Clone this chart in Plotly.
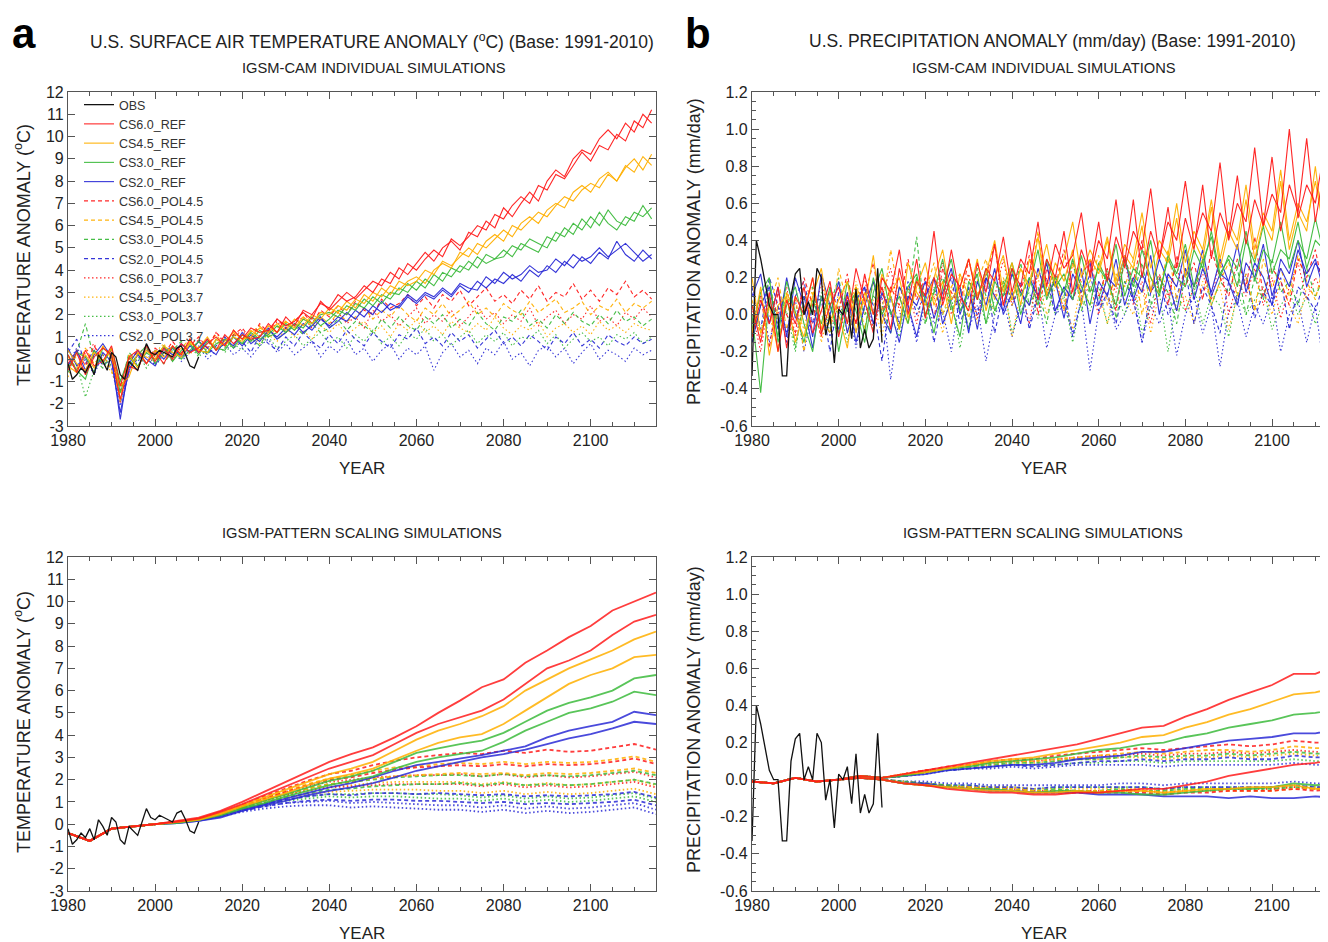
import plotly.graph_objects as go

# ---------------- axes / categories ----------------
YEARS_CAM = list(range(1980, 2116, 2))
YEARS_PS = list(range(1980, 2116, 5))
YEARS_OBS = list(range(1980, 2011))

X_TICKS = [1980, 2000, 2020, 2040, 2060, 2080, 2100]
T_TICKS = [-3, -2, -1, 0, 1, 2, 3, 4, 5, 6, 7, 8, 9, 10, 11, 12]
T_TICKTEXT = ["-3", "-2", "-1", "0", "1", "2", "3", "4", "5", "6", "7", "8", "9", "10", "11", "12"]
P_TICKS = [-0.6, -0.4, -0.2, 0.0, 0.2, 0.4, 0.6, 0.8, 1.0, 1.2]
P_TICKTEXT = ["-0.6", "-0.4", "-0.2", "0.0", "0.2", "0.4", "0.6", "0.8", "1.0", "1.2"]

SCENARIOS = ["CS6.0_REF", "CS4.5_REF", "CS3.0_REF", "CS2.0_REF",
             "CS6.0_POL4.5", "CS4.5_POL4.5", "CS3.0_POL4.5", "CS2.0_POL4.5",
             "CS6.0_POL3.7", "CS4.5_POL3.7", "CS3.0_POL3.7", "CS2.0_POL3.7"]

# ---------------- observations ----------------
OBS_T = [-0.2, -0.9, -0.7, -0.4, -0.6, -0.2, -0.7, 0.2, -0.1, -0.5, 0.3, 0.1, -0.7, -0.9, -0.1, -0.3,
         -0.5, 0.1, 0.7, 0.3, 0.2, 0.4, 0.3, 0.2, 0.1, 0.5, 0.6, 0.2, -0.3, -0.4, 0.1]
OBS_P = [-0.33, 0.40, 0.30, 0.18, 0.05, 0.0, 0.0, -0.33, -0.33, 0.10, 0.22, 0.25, 0.0, 0.07, 0.0, 0.25,
         0.20, -0.11, 0.0, -0.26, 0.03, 0.0, 0.07, -0.13, 0.14, -0.18, -0.08, -0.18, -0.13, 0.25, -0.15]

# ---------------- IGSM-CAM temperature (every 2 years) ----------------
T_CAM_CS60_REF = [-0.5, 0.3, -0.7, 0.1, 0.5, 0.2, -1.8, -0.3, -0.5, 0.6, -0.1, 0.5, 0.0, 0.7, 0.3, 0.5, 0.9, 0.4, 1.1, 0.7,
                  1.1, 0.9, 1.0, 1.6, 1.2, 1.9, 1.5, 2.2, 2.0, 2.5, 2.3, 2.9, 2.6, 2.8, 3.3, 3.0, 3.6, 3.4, 4.1, 3.8,
                  4.3, 4.8, 4.4, 5.0, 5.3, 4.9, 5.7, 5.5, 6.2, 5.9, 6.8, 6.4, 7.0, 7.5, 7.1, 8.0, 8.5, 8.2, 9.0, 9.4,
                  9.2, 9.9, 10.3, 9.9, 10.6, 10.2, 11.0, 10.6]
T_CAM_CS60_REF_2 = [0.2, -0.6, 0.4, -0.3, -0.1, 0.6, -1.2, 0.1, 0.4, -0.2, 0.3, -0.2, 0.6, 0.2, 0.9, 0.3, 0.7, 1.0, 0.6, 1.3,
                    0.9, 1.4, 1.2, 1.3, 1.8, 1.5, 1.7, 2.1, 1.8, 2.6, 2.2, 2.6, 3.0, 2.7, 3.1, 3.5, 3.3, 3.9, 3.6, 4.3,
                    4.0, 4.5, 4.9, 4.6, 5.4, 5.1, 5.5, 6.0, 5.8, 6.5, 6.3, 6.9, 7.3, 7.0, 7.8, 7.6, 8.3, 8.1, 8.7, 9.3,
                    8.9, 9.6, 9.4, 10.1, 9.8, 10.7, 10.4, 11.2]
T_CAM_CS45_REF = [-0.3, -0.6, 0.2, -0.4, 0.6, 0.0, -1.2, -0.8, 0.3, -0.2, 0.4, 0.1, 0.6, 0.2, 0.8, 0.4, 0.3, 0.9, 0.6, 1.0,
                  0.8, 1.3, 1.0, 1.5, 1.2, 1.7, 1.4, 1.9, 1.6, 2.1, 2.0, 2.4, 2.2, 2.7, 2.5, 3.0, 2.8, 3.3, 3.1, 3.5,
                  3.7, 3.4, 4.0, 4.3, 4.1, 4.8, 4.6, 5.2, 5.0, 5.4, 5.8, 5.5, 6.1, 6.4, 6.1, 6.7, 7.0, 6.8, 7.5, 7.8,
                  7.5, 8.1, 8.4, 8.0, 8.7, 8.4, 9.1, 8.7]
T_CAM_CS45_REF_2 = [0.4, -0.2, -0.5, 0.3, -0.1, 0.5, -1.9, 0.2, -0.4, 0.4, 0.0, 0.6, 0.3, 0.1, 0.7, 0.5, 1.0, 0.4, 0.8, 1.2,
                    0.9, 1.0, 1.4, 1.2, 1.6, 1.3, 1.8, 1.5, 2.0, 1.8, 2.3, 2.1, 2.6, 2.3, 2.9, 2.6, 3.2, 2.9, 3.5, 3.3,
                    3.5, 4.0, 3.8, 4.4, 4.2, 4.6, 5.0, 4.7, 5.3, 5.6, 5.3, 6.0, 5.8, 6.2, 6.6, 6.4, 6.9, 7.3, 7.1, 7.6,
                    7.9, 7.7, 8.3, 8.0, 8.6, 9.0, 8.5, 9.2]
T_CAM_CS30_REF = [0.2, -0.5, -0.9, 0.4, -0.2, 0.5, -1.0, 0.1, -0.3, 0.3, 0.0, 0.6, -0.1, 0.4, 0.7, 0.2, 0.8, 0.5, 0.4, 1.0,
                  0.7, 1.2, 0.9, 1.1, 1.5, 1.2, 1.6, 1.4, 1.9, 1.5, 1.8, 2.2, 2.0, 2.5, 2.3, 2.8, 2.5, 3.0, 2.9, 3.4,
                  3.1, 3.6, 3.3, 3.9, 3.7, 4.2, 4.0, 4.6, 4.3, 4.5, 4.9, 4.6, 5.2, 5.0, 4.8, 5.5, 5.3, 5.9, 5.6, 6.3,
                  5.9, 6.6, 6.1, 5.8, 6.4, 6.2, 6.9, 6.3]
T_CAM_CS30_REF_2 = [-0.4, 0.3, 0.1, -0.6, 0.5, 0.2, -1.5, -0.3, 0.2, 0.6, -0.2, 0.3, 0.5, 0.0, 0.4, 0.8, 0.3, 0.7, 0.9, 0.5,
                    1.1, 0.8, 1.3, 1.0, 1.2, 1.6, 1.3, 1.8, 1.6, 2.0, 2.1, 1.9, 2.4, 2.2, 2.7, 2.4, 2.9, 2.7, 3.2, 3.0,
                    3.5, 3.2, 3.8, 3.5, 4.1, 3.9, 4.4, 4.1, 4.7, 4.5, 4.6, 5.1, 4.9, 5.4, 5.2, 5.0, 5.7, 5.5, 6.1, 5.8,
                    6.4, 6.0, 6.7, 6.2, 6.0, 6.6, 6.4, 6.8]
T_CAM_CS20_REF = [0.5, -0.3, 0.1, -0.6, 0.3, -0.1, -2.4, -0.5, 0.2, -0.2, 0.4, 0.0, 0.5, 0.1, 0.6, 0.3, 0.9, 0.4, 0.7, 1.0,
                  0.6, 1.1, 0.8, 1.3, 1.0, 1.4, 1.1, 1.6, 1.3, 1.8, 1.5, 1.9, 1.7, 2.2, 1.9, 2.4, 2.1, 2.5, 2.3, 2.8,
                  2.5, 2.9, 2.7, 3.1, 2.8, 3.3, 3.0, 3.5, 3.2, 3.6, 3.4, 3.8, 3.5, 4.0, 3.7, 4.2, 3.9, 4.4, 4.1, 4.6,
                  4.3, 4.8, 4.5, 5.3, 4.7, 4.4, 4.9, 4.5]
T_CAM_CS20_REF_2 = [-0.3, 0.4, -0.5, 0.2, 0.7, 0.1, -2.7, -0.2, 0.4, 0.0, -0.3, 0.5, 0.2, 0.7, 0.3, 0.8, 0.5, 0.2, 0.9, 0.6,
                    1.2, 0.7, 1.0, 1.4, 0.9, 1.2, 1.6, 1.2, 1.5, 1.9, 1.4, 1.7, 2.1, 1.8, 2.3, 2.0, 2.6, 2.2, 2.4, 2.9,
                    2.6, 3.0, 2.8, 3.2, 2.9, 3.4, 3.2, 3.1, 3.7, 3.4, 3.9, 3.6, 3.8, 4.2, 3.9, 4.0, 4.5, 4.2, 4.7, 4.4,
                    4.6, 5.0, 4.6, 4.9, 5.2, 4.8, 4.4, 4.7]
T_CAM_CS60_P45 = [-0.2, 0.4, -0.3, 0.6, -0.1, 0.4, -1.4, 0.0, 0.3, -0.2, 0.5, 0.2, 0.8, 0.3, 0.6, 1.0, 0.5, 1.2, 0.8, 1.1,
                  1.4, 0.9, 1.6, 1.2, 1.8, 1.4, 1.7, 2.1, 1.6, 2.2, 1.9, 2.4, 2.0, 2.6, 2.2, 2.0, 2.7, 2.3, 2.5, 2.9,
                  2.4, 2.8, 2.3, 2.9, 2.6, 3.1, 2.4, 2.8, 3.2, 2.6, 2.9, 2.5, 3.1, 2.7, 3.3, 2.6, 3.0, 2.8, 3.4, 2.7,
                  3.1, 2.6, 3.2, 2.9, 3.5, 2.8, 3.1, 2.7]
T_CAM_CS45_P45 = [0.1, -0.4, 0.5, -0.2, 0.2, -0.5, -1.6, -0.2, 0.4, 0.1, -0.1, 0.6, 0.2, 0.5, 0.9, 0.4, 0.7, 1.1, 0.6, 1.3,
                  0.9, 1.2, 1.5, 1.0, 1.4, 1.7, 1.3, 1.8, 1.5, 1.9, 1.6, 2.1, 1.7, 1.9, 2.3, 1.8, 2.2, 1.9, 2.4, 2.0,
                  1.7, 2.3, 2.0, 2.5, 1.9, 2.2, 2.6, 2.0, 2.3, 1.9, 2.5, 2.2, 2.0, 2.6, 2.1, 2.4, 2.7, 2.1, 2.3, 2.6,
                  2.0, 2.4, 2.2, 2.7, 2.1, 2.5, 2.3, 2.6]
T_CAM_CS30_P45 = [-0.6, 0.3, 1.6, 0.0, -0.4, 0.2, -1.3, 0.3, -0.1, 0.5, 0.1, -0.2, 0.4, 0.8, 0.3, 0.6, 0.2, 0.9, 0.5, 1.1,
                  0.7, 1.0, 0.6, 1.3, 0.9, 1.2, 1.5, 1.1, 1.6, 1.2, 1.4, 1.8, 1.3, 1.7, 1.5, 1.2, 1.8, 1.4, 1.9, 1.5,
                  1.3, 1.9, 1.6, 2.0, 1.4, 1.8, 1.5, 2.1, 1.6, 1.3, 1.9, 1.7, 2.2, 1.5, 1.8, 1.4, 2.0, 1.6, 2.1, 1.7,
                  1.5, 2.0, 1.6, 2.2, 1.7, 1.9, 1.5, 1.8]
T_CAM_CS20_P45 = [0.3, 0.9, -0.2, 0.4, -0.3, 0.1, -1.9, -0.4, 0.0, 0.5, -0.2, 0.3, 0.6, 0.1, 0.4, 0.8, 0.2, 0.6, 1.0, 0.5,
                  0.8, 0.3, 1.1, 0.7, 0.4, 1.0, 0.6, 1.2, 0.8, 0.5, 1.1, 0.7, 1.3, 0.9, 0.6, 1.2, 0.8, 0.5, 1.1, 0.9,
                  1.4, 0.7, 1.0, 0.6, 1.2, 0.8, 1.1, 0.5, 0.9, 1.3, 0.7, 1.0, 0.6, 1.1, 0.8, 0.4, 1.0, 0.7, 1.2, 0.6,
                  0.9, 0.5, 1.1, 0.8, 0.6, 1.0, 0.7, 0.9]
T_CAM_CS60_P37 = [0.0, -0.5, 0.3, 0.7, -0.2, 0.1, -2.0, -0.6, 0.2, 0.6, 0.1, 0.4, -0.1, 0.7, 0.3, 0.9, 0.5, 1.2, 0.7, 1.0,
                  1.3, 0.8, 1.5, 1.1, 1.7, 1.2, 1.6, 1.9, 1.4, 1.8, 1.5, 2.1, 1.6, 1.9, 1.4, 2.2, 1.7, 2.0, 1.5, 1.9,
                  2.3, 1.6, 2.0, 1.7, 2.2, 1.5, 1.9, 2.4, 1.8, 2.1, 1.6, 2.0, 1.7, 2.3, 1.5, 1.9, 2.2, 1.6, 2.0, 1.8,
                  2.4, 1.7, 1.9, 1.5, 2.1, 1.8, 2.3, 1.9]
T_CAM_CS45_P37 = [-0.8, 0.2, -0.3, 0.4, 0.0, -0.6, -1.5, -0.1, 0.5, -0.2, 0.3, 0.7, 0.1, 0.5, 0.2, 0.8, 0.4, 0.6, 1.0, 0.5,
                  0.9, 1.2, 0.7, 1.1, 0.8, 1.4, 1.0, 1.3, 0.9, 1.5, 1.2, 1.6, 1.1, 1.4, 1.7, 1.2, 1.5, 1.0, 1.6, 1.3,
                  1.8, 1.2, 1.5, 1.1, 1.7, 1.4, 1.2, 1.6, 1.3, 1.9, 1.4, 1.1, 1.5, 1.3, 1.7, 1.0, 1.4, 1.6, 1.2, 1.5,
                  1.1, 1.7, 1.3, 1.5, 1.2, 1.6, 1.4, 1.3]
T_CAM_CS30_P37 = [0.4, -0.2, -1.7, -0.5, 0.2, -0.3, -1.1, 0.0, 0.3, -0.4, 0.2, 0.5, 0.0, 0.3, 0.6, 0.1, 0.5, 0.8, 0.3, 0.7,
                  0.4, 0.9, 0.6, 1.0, 0.5, 0.8, 1.1, 0.6, 0.9, 1.2, 0.7, 1.0, 0.5, 1.1, 0.8, 1.3, 0.7, 1.0, 0.6, 1.2,
                  0.9, 1.4, 0.8, 1.1, 0.6, 1.0, 1.3, 0.7, 1.1, 0.8, 1.2, 0.6, 1.0, 0.9, 1.3, 0.7, 1.1, 0.5, 0.9, 1.2,
                  0.8, 1.0, 0.6, 1.1, 0.9, 1.2, 0.7, 1.0]
T_CAM_CS20_P37 = [-0.2, 0.5, 0.0, -0.7, 0.2, -0.4, -2.1, -0.6, -0.1, 0.3, -0.3, 0.2, 0.5, -0.1, 0.3, 0.6, 0.0, 0.4, 0.7, 0.2,
                  0.5, 0.1, 0.6, 0.9, 0.3, 0.7, 0.2, 0.5, 0.8, 0.1, 0.6, 0.3, 0.9, 0.2, 0.5, -0.1, 0.4, 0.7, 0.0, 0.5,
                  0.2, 0.6, -0.5, 0.3, 0.7, 0.1, 0.4, -0.2, 0.5, 0.2, 0.8, 0.0, 0.3, -0.3, 0.4, 0.6, 0.1, 0.5, -0.2, 0.3,
                  0.7, 0.0, 0.4, 0.2, -0.1, 0.5, 0.2, 0.4]

# ---------------- IGSM-CAM precipitation (every 2 years) ----------------
P_CAM_CS60_REF = [0.05, -0.15, 0.12, -0.2, 0.08, -0.05, 0.15, -0.1, 0.02, 0.18, -0.12, 0.1, -0.05, 0.22, 0.0, 0.15, -0.08, 0.25, 0.05, 0.3,
                  -0.02, 0.2, 0.08, 0.35, 0.1, 0.02, 0.28, 0.12, 0.38, 0.05, 0.25, 0.15, 0.4, 0.08, 0.3, 0.2, 0.45, 0.12, 0.35, 0.22,
                  0.5, 0.18, 0.42, 0.28, 0.62, 0.2, 0.45, 0.3, 0.58, 0.25, 0.52, 0.35, 0.7, 0.3, 0.55, 0.42, 0.75, 0.38, 0.62, 0.48,
                  0.85, 0.45, 0.7, 0.55, 0.95, 0.5, 0.78, 0.6]
P_CAM_CS60_REF_2 = [-0.12, 0.08, -0.05, 0.15, -0.18, 0.1, 0.0, 0.2, -0.1, 0.05, 0.15, -0.05, 0.25, 0.08, -0.1, 0.2, 0.12, 0.35, 0.0, 0.18,
                    0.1, 0.45, 0.05, 0.22, 0.15, 0.3, 0.08, 0.25, 0.18, 0.42, 0.12, 0.3, 0.22, 0.5, 0.15, 0.38, 0.25, 0.32, 0.55, 0.2,
                    0.4, 0.3, 0.62, 0.25, 0.45, 0.35, 0.68, 0.3, 0.5, 0.4, 0.72, 0.38, 0.55, 0.45, 0.82, 0.4, 0.6, 0.5, 0.9, 0.48,
                    0.65, 0.55, 1.0, 0.52, 0.7, 0.6, 0.88, 0.55]
P_CAM_CS45_REF = [-0.1, 0.15, -0.22, 0.05, 0.1, -0.15, 0.02, 0.2, -0.08, 0.12, 0.0, -0.18, 0.15, 0.05, 0.32, -0.05, 0.12, 0.2, -0.02, 0.15,
                  0.28, 0.05, 0.18, -0.05, 0.22, 0.1, 0.3, 0.02, 0.2, 0.32, 0.08, 0.25, 0.15, 0.42, 0.1, 0.28, 0.18, 0.35, 0.05, 0.3,
                  0.22, 0.4, 0.15, 0.32, 0.25, 0.48, 0.12, 0.35, 0.28, 0.52, 0.2, 0.4, 0.3, 0.58, 0.25, 0.45, 0.35, 0.62, 0.3, 0.5,
                  0.4, 0.72, 0.35, 0.55, 0.45, 0.8, 0.42, 0.6]
P_CAM_CS45_REF_2 = [0.2, -0.1, 0.05, -0.2, 0.12, 0.0, -0.12, 0.1, 0.25, -0.05, 0.08, 0.18, -0.1, 0.12, 0.0, 0.22, 0.1, -0.08, 0.28, 0.12,
                    0.05, 0.2, 0.35, 0.08, 0.15, 0.3, 0.1, 0.22, 0.4, 0.12, 0.28, 0.05, 0.3, 0.2, 0.38, 0.15, 0.3, 0.5, 0.2, 0.35,
                    0.25, 0.42, 0.18, 0.38, 0.3, 0.55, 0.25, 0.4, 0.32, 0.6, 0.28, 0.45, 0.35, 0.62, 0.3, 0.5, 0.4, 0.7, 0.35, 0.55,
                    0.45, 0.78, 0.4, 0.6, 0.5, 0.72, 0.45, 0.65]
P_CAM_CS30_REF = [0.0, -0.42, 0.1, -0.12, 0.18, 0.02, -0.15, 0.08, -0.05, 0.15, -0.2, 0.05, 0.12, -0.1, 0.2, 0.0, 0.1, -0.08, 0.15, 0.22,
                  0.0, 0.12, 0.3, 0.05, -0.12, 0.18, 0.08, 0.25, 0.02, 0.15, 0.28, 0.1, 0.2, 0.05, 0.3, 0.15, 0.22, 0.08, 0.32, 0.12,
                  0.25, 0.18, 0.05, 0.3, 0.15, 0.35, 0.2, 0.1, 0.32, 0.22, 0.38, 0.15, 0.28, 0.42, 0.2, 0.32, 0.25, 0.45, 0.18, 0.35,
                  0.28, 0.5, 0.25, 0.4, 0.3, 0.52, 0.32, 0.42]
P_CAM_CS30_REF_2 = [-0.08, 0.12, 0.2, -0.15, 0.05, 0.15, -0.05, -0.2, 0.1, 0.05, -0.1, 0.18, 0.02, -0.15, 0.12, 0.25, 0.0, 0.1, -0.05, 0.2,
                    0.08, -0.1, 0.15, 0.3, 0.02, 0.12, 0.22, -0.05, 0.18, 0.1, 0.25, 0.0, 0.15, 0.35, 0.08, 0.2, 0.12, 0.3, 0.15, 0.05,
                    0.28, 0.18, 0.38, 0.1, 0.25, 0.2, 0.4, 0.12, 0.3, 0.2, 0.15, 0.35, 0.25, 0.45, 0.22, 0.3, 0.15, 0.4, 0.28, 0.48,
                    0.22, 0.35, 0.3, 0.5, 0.25, 0.4, 0.35, 0.55]
P_CAM_CS20_REF = [0.1, 0.22, -0.05, 0.15, -0.12, 0.2, 0.05, -0.18, 0.1, 0.0, 0.18, -0.1, 0.08, 0.15, -0.05, 0.12, 0.02, -0.15, 0.1, 0.05,
                  0.18, -0.02, 0.12, 0.25, 0.0, 0.15, -0.08, 0.2, 0.1, 0.02, 0.22, 0.12, 0.05, 0.25, 0.1, 0.18, -0.02, 0.22, 0.12, 0.28,
                  0.05, 0.2, 0.15, 0.32, 0.08, 0.22, 0.12, 0.3, 0.18, 0.02, 0.25, 0.15, 0.35, 0.1, 0.22, 0.18, 0.38, 0.12, 0.28, 0.2,
                  0.05, 0.3, 0.22, 0.4, 0.15, 0.28, 0.2, 0.35]
P_CAM_CS20_REF_2 = [-0.15, 0.05, 0.15, -0.08, 0.2, -0.02, 0.1, -0.12, 0.22, 0.05, -0.08, 0.12, -0.15, 0.05, 0.18, 0.0, -0.1, 0.15, 0.05, -0.12,
                    0.1, 0.2, -0.05, 0.08, 0.15, -0.1, 0.18, 0.05, 0.25, 0.0, 0.12, -0.05, 0.2, 0.1, 0.28, 0.02, 0.15, 0.08, 0.25, -0.05,
                    0.18, 0.1, 0.3, 0.05, 0.2, 0.12, 0.32, 0.0, 0.22, 0.15, 0.35, 0.08, 0.25, 0.12, 0.3, 0.18, 0.05, 0.28, 0.2, 0.38,
                    0.1, 0.25, 0.15, 0.35, 0.22, 0.3, 0.12, 0.32]
P_CAM_CS60_P45 = [-0.05, 0.1, -0.18, 0.12, 0.0, -0.1, 0.2, 0.05, -0.12, 0.15, 0.02, 0.22, -0.05, 0.1, 0.28, 0.0, 0.15, 0.05, 0.3, 0.08,
                  0.2, -0.02, 0.25, 0.12, 0.05, 0.3, 0.1, 0.2, 0.38, 0.05, 0.22, 0.12, 0.32, 0.0, 0.25, 0.15, 0.35, 0.08, 0.2, 0.3,
                  0.1, 0.25, 0.02, 0.3, 0.18, 0.4, 0.12, 0.22, 0.05, 0.32, 0.15, 0.28, 0.08, 0.35, 0.2, 0.1, 0.3, 0.15, 0.42, 0.1,
                  0.25, 0.18, 0.05, 0.3, 0.2, 0.35, 0.12, 0.25]
P_CAM_CS45_P45 = [0.08, -0.12, 0.05, 0.2, -0.08, 0.1, -0.2, 0.12, 0.0, -0.1, 0.25, 0.05, 0.15, -0.08, 0.18, 0.02, 0.35, 0.1, -0.05, 0.2,
                  0.12, 0.28, 0.0, 0.15, 0.22, -0.02, 0.18, 0.3, 0.08, 0.2, 0.05, 0.25, 0.15, 0.45, 0.1, 0.2, 0.02, 0.28, 0.12, 0.18,
                  0.32, 0.05, 0.22, 0.15, 0.3, 0.0, 0.2, 0.12, 0.35, 0.08, 0.25, 0.15, 0.3, 0.05, 0.18, 0.28, 0.1, 0.22, 0.02, 0.3,
                  0.15, 0.25, 0.1, 0.32, 0.18, 0.08, 0.28, 0.15]
P_CAM_CS30_P45 = [-0.15, 0.05, 0.18, -0.05, 0.1, -0.18, 0.08, 0.15, -0.1, 0.05, 0.2, -0.05, 0.12, 0.0, 0.1, 0.05, -0.1, 0.15, 0.08, 0.42,
                  -0.05, 0.12, 0.2, 0.02, 0.15, -0.08, 0.25, 0.1, 0.0, 0.18, 0.08, 0.28, 0.05, 0.15, -0.05, 0.22, 0.1, 0.3, 0.02, 0.15,
                  0.08, 0.25, -0.02, 0.18, 0.1, 0.28, 0.05, 0.2, 0.12, -0.05, 0.22, 0.1, 0.3, 0.05, 0.18, 0.12, 0.25, 0.0, 0.2, 0.08,
                  0.3, 0.12, 0.18, 0.05, 0.25, 0.1, 0.2, 0.15]
P_CAM_CS20_P45 = [0.15, -0.08, 0.2, 0.05, -0.15, 0.1, 0.18, -0.05, 0.08, -0.2, 0.12, 0.02, -0.1, 0.15, 0.05, -0.25, 0.1, -0.05, 0.18, 0.0,
                  0.12, -0.15, 0.08, 0.2, -0.05, 0.1, 0.0, 0.22, -0.1, 0.12, 0.05, 0.18, -0.08, 0.1, 0.2, 0.0, 0.15, -0.12, 0.08, 0.22,
                  0.02, 0.12, -0.05, 0.18, 0.08, -0.15, 0.12, 0.2, 0.0, 0.1, 0.25, -0.05, 0.15, 0.05, -0.1, 0.18, 0.08, 0.22, -0.02, 0.12,
                  0.05, 0.2, -0.08, 0.15, 0.1, 0.02, 0.18, 0.08]
P_CAM_CS60_P37 = [0.02, -0.2, 0.1, 0.0, 0.15, -0.12, 0.05, -0.05, 0.18, 0.0, -0.1, 0.12, 0.05, 0.2, -0.08, 0.1, 0.25, 0.02, 0.15, -0.05,
                  0.2, 0.08, 0.28, 0.0, 0.12, 0.22, -0.02, 0.18, 0.1, 0.3, 0.05, 0.15, -0.05, 0.25, 0.12, 0.2, 0.02, 0.28, 0.1, 0.15,
                  0.0, 0.22, 0.12, 0.3, 0.05, 0.18, -0.05, 0.2, 0.1, 0.28, 0.02, 0.15, 0.22, 0.08, 0.3, 0.0, 0.18, 0.1, 0.25, 0.05,
                  0.2, -0.02, 0.15, 0.28, 0.08, 0.2, 0.1, 0.18]
P_CAM_CS45_P37 = [-0.12, 0.08, 0.0, -0.18, 0.12, 0.05, -0.08, 0.15, -0.15, 0.05, 0.1, -0.1, 0.18, 0.0, 0.08, -0.12, 0.15, 0.05, -0.05, 0.2,
                  0.0, 0.1, -0.1, 0.15, 0.05, 0.22, -0.05, 0.1, 0.02, 0.18, -0.12, 0.12, 0.05, 0.2, 0.0, 0.15, 0.08, -0.08, 0.18, 0.05,
                  0.12, -0.05, 0.2, 0.08, 0.0, 0.15, -0.1, 0.12, 0.22, 0.02, 0.1, -0.05, 0.18, 0.08, 0.15, -0.08, 0.1, 0.2, 0.02, 0.12,
                  0.0, 0.18, 0.05, -0.05, 0.15, 0.1, 0.2, 0.05]
P_CAM_CS30_P37 = [0.05, -0.1, 0.15, -0.05, 0.02, -0.2, 0.1, 0.0, 0.12, -0.1, 0.05, -0.15, 0.1, 0.02, -0.08, 0.15, 0.0, -0.12, 0.1, 0.05,
                  -0.05, 0.15, 0.0, 0.1, -0.18, 0.05, 0.12, -0.05, 0.08, 0.18, -0.1, 0.05, 0.12, -0.02, 0.15, 0.0, 0.1, -0.15, 0.08, 0.02,
                  0.15, -0.05, 0.1, 0.0, 0.18, -0.1, 0.05, 0.12, -0.2, 0.08, 0.02, 0.15, -0.05, 0.1, 0.05, -0.12, 0.12, 0.0, 0.08, 0.15,
                  -0.08, 0.05, 0.12, 0.0, 0.1, -0.05, 0.08, 0.02]
P_CAM_CS20_P37 = [-0.05, 0.12, -0.15, 0.05, -0.1, 0.08, -0.2, 0.02, 0.1, -0.12, 0.0, 0.08, -0.18, 0.05, -0.05, 0.1, -0.35, 0.0, 0.05, -0.15,
                  0.08, -0.05, 0.02, -0.2, 0.1, -0.08, 0.05, -0.25, 0.0, 0.08, -0.12, 0.05, -0.05, 0.12, -0.18, 0.0, 0.05, -0.1, 0.08, -0.3,
                  0.02, 0.1, -0.08, 0.0, 0.12, -0.15, 0.05, -0.05, 0.08, -0.22, 0.0, 0.1, -0.1, 0.05, -0.28, 0.02, 0.08, -0.12, 0.05, -0.05,
                  0.1, -0.2, 0.0, 0.08, -0.15, 0.05, -0.3, 0.02]

# ---------------- IGSM pattern scaling temperature (every 5 years; two patterns A/B) ----------------
T_PS_CS60_REF_A = [-0.4, -0.75, -0.2, -0.1, 0.0, 0.15, 0.3, 0.6, 1.0, 1.45, 1.9, 2.35, 2.8, 3.15, 3.45, 3.9, 4.4, 5.0, 5.55, 6.15, 6.5, 7.25, 7.8, 8.4, 8.9, 9.6, 10.0, 10.4]
T_PS_CS60_REF_B = [-0.4, -0.75, -0.2, -0.1, 0.0, 0.1, 0.25, 0.55, 0.9, 1.3, 1.7, 2.1, 2.5, 2.8, 3.1, 3.6, 4.1, 4.5, 4.8, 5.1, 5.6, 6.3, 7.0, 7.35, 7.8, 8.5, 9.1, 9.4]
T_PS_CS45_REF_A = [-0.4, -0.75, -0.2, -0.1, 0.0, 0.1, 0.25, 0.5, 0.85, 1.2, 1.55, 1.9, 2.25, 2.5, 2.8, 3.3, 3.8, 4.2, 4.5, 4.85, 5.3, 6.0, 6.5, 7.0, 7.4, 7.8, 8.3, 8.65]
T_PS_CS45_REF_B = [-0.4, -0.75, -0.2, -0.1, 0.0, 0.1, 0.2, 0.45, 0.8, 1.1, 1.4, 1.75, 2.05, 2.25, 2.5, 2.9, 3.3, 3.65, 3.9, 4.05, 4.5, 5.1, 5.7, 6.3, 6.7, 7.0, 7.5, 7.6]
T_PS_CS30_REF_A = [-0.4, -0.75, -0.2, -0.1, 0.0, 0.1, 0.2, 0.45, 0.75, 1.05, 1.35, 1.65, 1.95, 2.15, 2.4, 2.8, 3.2, 3.4, 3.6, 3.75, 4.1, 4.6, 5.1, 5.45, 5.7, 6.0, 6.55, 6.7]
T_PS_CS30_REF_B = [-0.4, -0.75, -0.2, -0.1, 0.0, 0.05, 0.2, 0.4, 0.7, 0.95, 1.25, 1.5, 1.75, 1.95, 2.15, 2.5, 2.8, 3.0, 3.15, 3.3, 3.7, 4.2, 4.6, 5.0, 5.2, 5.5, 5.95, 5.8]
T_PS_CS20_REF_A = [-0.4, -0.75, -0.2, -0.1, 0.0, 0.05, 0.15, 0.35, 0.65, 0.9, 1.15, 1.4, 1.65, 1.85, 2.1, 2.4, 2.65, 2.8, 2.95, 3.1, 3.3, 3.5, 3.9, 4.2, 4.4, 4.6, 5.05, 4.9]
T_PS_CS20_REF_B = [-0.4, -0.75, -0.2, -0.1, 0.0, 0.05, 0.15, 0.3, 0.6, 0.85, 1.05, 1.3, 1.5, 1.65, 1.85, 2.1, 2.4, 2.6, 2.8, 3.0, 3.15, 3.35, 3.6, 3.85, 4.05, 4.3, 4.6, 4.5]
T_PS_CS60_P45_A = [-0.4, -0.75, -0.2, -0.1, 0.0, 0.1, 0.2, 0.45, 0.85, 1.25, 1.6, 1.95, 2.25, 2.4, 2.65, 2.85, 3.0, 3.1, 3.2, 3.15, 3.3, 3.2, 3.35, 3.25, 3.3, 3.45, 3.6, 3.35]
T_PS_CS60_P45_B = [-0.4, -0.75, -0.2, -0.1, 0.0, 0.1, 0.2, 0.45, 0.8, 1.15, 1.45, 1.75, 2.0, 2.1, 2.3, 2.45, 2.55, 2.6, 2.65, 2.6, 2.7, 2.6, 2.7, 2.65, 2.7, 2.8, 2.95, 2.7]
T_PS_CS45_P45_A = [-0.4, -0.75, -0.2, -0.1, 0.0, 0.1, 0.2, 0.45, 0.8, 1.15, 1.5, 1.8, 2.05, 2.2, 2.4, 2.55, 2.6, 2.7, 2.75, 2.7, 2.8, 2.7, 2.8, 2.75, 2.8, 2.9, 3.05, 2.8]
T_PS_CS45_P45_B = [-0.4, -0.75, -0.2, -0.1, 0.0, 0.1, 0.2, 0.45, 0.75, 1.05, 1.35, 1.6, 1.8, 1.9, 2.05, 2.15, 2.2, 2.25, 2.3, 2.25, 2.3, 2.2, 2.3, 2.25, 2.3, 2.4, 2.5, 2.3]
T_PS_CS30_P45_A = [-0.4, -0.75, -0.2, -0.1, 0.0, 0.1, 0.2, 0.45, 0.75, 1.05, 1.35, 1.6, 1.8, 1.9, 2.0, 2.1, 2.15, 2.2, 2.2, 2.15, 2.25, 2.15, 2.2, 2.15, 2.2, 2.3, 2.4, 2.2]
T_PS_CS30_P45_B = [-0.4, -0.75, -0.2, -0.1, 0.0, 0.1, 0.2, 0.45, 0.7, 0.95, 1.2, 1.4, 1.55, 1.6, 1.7, 1.75, 1.8, 1.8, 1.85, 1.75, 1.85, 1.75, 1.8, 1.75, 1.8, 1.9, 2.0, 1.8]
T_PS_CS20_P45_A = [-0.4, -0.75, -0.2, -0.1, 0.0, 0.1, 0.2, 0.4, 0.65, 0.9, 1.1, 1.25, 1.35, 1.3, 1.4, 1.4, 1.35, 1.4, 1.35, 1.3, 1.35, 1.25, 1.3, 1.25, 1.3, 1.35, 1.45, 1.2]
T_PS_CS20_P45_B = [-0.4, -0.75, -0.2, -0.1, 0.0, 0.1, 0.2, 0.4, 0.6, 0.8, 0.95, 1.05, 1.1, 1.05, 1.1, 1.1, 1.05, 1.05, 1.0, 0.95, 1.0, 0.9, 0.95, 0.9, 0.95, 1.0, 1.1, 0.85]
T_PS_CS60_P37_A = [-0.4, -0.75, -0.2, -0.1, 0.0, 0.1, 0.2, 0.45, 0.8, 1.15, 1.45, 1.7, 1.9, 2.0, 2.1, 2.15, 2.2, 2.2, 2.25, 2.15, 2.25, 2.1, 2.2, 2.1, 2.15, 2.25, 2.35, 2.1]
T_PS_CS60_P37_B = [-0.4, -0.75, -0.2, -0.1, 0.0, 0.1, 0.2, 0.45, 0.75, 1.05, 1.3, 1.5, 1.65, 1.7, 1.75, 1.8, 1.8, 1.8, 1.8, 1.7, 1.8, 1.65, 1.75, 1.65, 1.7, 1.8, 1.9, 1.65]
T_PS_CS45_P37_A = [-0.4, -0.75, -0.2, -0.1, 0.0, 0.1, 0.2, 0.45, 0.75, 1.05, 1.3, 1.55, 1.7, 1.75, 1.85, 1.9, 1.9, 1.9, 1.9, 1.8, 1.9, 1.75, 1.85, 1.75, 1.8, 1.9, 2.0, 1.75]
T_PS_CS45_P37_B = [-0.4, -0.75, -0.2, -0.1, 0.0, 0.1, 0.2, 0.4, 0.7, 0.95, 1.2, 1.35, 1.45, 1.5, 1.55, 1.55, 1.55, 1.5, 1.5, 1.4, 1.5, 1.35, 1.45, 1.35, 1.4, 1.5, 1.6, 1.35]
T_PS_CS30_P37_A = [-0.4, -0.75, -0.2, -0.1, 0.0, 0.1, 0.2, 0.4, 0.65, 0.9, 1.1, 1.25, 1.35, 1.35, 1.4, 1.4, 1.35, 1.35, 1.3, 1.2, 1.3, 1.15, 1.25, 1.15, 1.2, 1.3, 1.4, 1.15]
T_PS_CS30_P37_B = [-0.4, -0.75, -0.2, -0.1, 0.0, 0.1, 0.2, 0.4, 0.65, 0.85, 1.05, 1.15, 1.25, 1.2, 1.25, 1.25, 1.2, 1.15, 1.15, 1.05, 1.15, 1.0, 1.1, 1.0, 1.05, 1.15, 1.25, 1.0]
T_PS_CS20_P37_A = [-0.4, -0.75, -0.2, -0.1, 0.0, 0.1, 0.2, 0.4, 0.6, 0.8, 0.95, 1.0, 1.05, 0.95, 1.0, 0.95, 0.9, 0.85, 0.85, 0.75, 0.85, 0.7, 0.8, 0.7, 0.75, 0.85, 0.95, 0.65]
T_PS_CS20_P37_B = [-0.4, -0.75, -0.2, -0.1, 0.0, 0.1, 0.2, 0.35, 0.55, 0.7, 0.8, 0.85, 0.85, 0.75, 0.8, 0.75, 0.7, 0.65, 0.65, 0.55, 0.65, 0.5, 0.6, 0.5, 0.55, 0.65, 0.75, 0.45]

# ---------------- IGSM pattern scaling precipitation (every 5 years; wet A / dry B) ----------------
P_PS_CS60_REF_A = [-0.01, -0.02, 0.01, -0.01, 0.0, 0.02, 0.01, 0.03, 0.05, 0.07, 0.09, 0.11, 0.13, 0.15, 0.17, 0.19, 0.22, 0.25, 0.28, 0.29, 0.34, 0.38, 0.43, 0.47, 0.51, 0.57, 0.57, 0.62]
P_PS_CS60_REF_B = [-0.01, -0.02, 0.01, -0.01, 0.0, 0.01, 0.0, -0.02, -0.03, -0.05, -0.06, -0.07, -0.07, -0.08, -0.08, -0.07, -0.07, -0.06, -0.05, -0.05, -0.03, -0.01, 0.02, 0.04, 0.06, 0.08, 0.09, 0.11]
P_PS_CS45_REF_A = [-0.01, -0.02, 0.01, -0.01, 0.0, 0.02, 0.01, 0.03, 0.04, 0.06, 0.08, 0.1, 0.11, 0.12, 0.14, 0.16, 0.18, 0.2, 0.23, 0.24, 0.28, 0.31, 0.35, 0.38, 0.42, 0.46, 0.47, 0.5]
P_PS_CS45_REF_B = [-0.01, -0.02, 0.01, -0.01, 0.0, 0.01, 0.0, -0.02, -0.03, -0.04, -0.05, -0.06, -0.06, -0.07, -0.07, -0.06, -0.07, -0.06, -0.06, -0.07, -0.06, -0.05, -0.05, -0.04, -0.04, -0.03, -0.05, -0.04]
P_PS_CS30_REF_A = [-0.01, -0.02, 0.01, -0.01, 0.0, 0.02, 0.01, 0.02, 0.04, 0.06, 0.07, 0.09, 0.1, 0.11, 0.12, 0.14, 0.16, 0.17, 0.19, 0.2, 0.23, 0.25, 0.28, 0.3, 0.32, 0.35, 0.36, 0.38]
P_PS_CS30_REF_B = [-0.01, -0.02, 0.01, -0.01, 0.0, 0.01, 0.0, -0.02, -0.03, -0.04, -0.05, -0.05, -0.06, -0.07, -0.06, -0.06, -0.07, -0.07, -0.08, -0.08, -0.07, -0.06, -0.05, -0.05, -0.04, -0.02, -0.03, -0.02]
P_PS_CS20_REF_A = [-0.01, -0.02, 0.01, -0.01, 0.0, 0.02, 0.01, 0.02, 0.03, 0.05, 0.06, 0.07, 0.08, 0.08, 0.09, 0.11, 0.12, 0.13, 0.15, 0.15, 0.17, 0.19, 0.21, 0.22, 0.23, 0.25, 0.25, 0.27]
P_PS_CS20_REF_B = [-0.01, -0.02, 0.01, -0.01, 0.0, 0.01, 0.0, -0.02, -0.02, -0.04, -0.05, -0.06, -0.06, -0.07, -0.07, -0.07, -0.08, -0.08, -0.08, -0.09, -0.09, -0.09, -0.1, -0.09, -0.1, -0.1, -0.09, -0.1]
P_PS_CS60_P45_A = [-0.01, -0.02, 0.01, -0.01, 0.0, 0.02, 0.01, 0.03, 0.05, 0.07, 0.08, 0.1, 0.11, 0.11, 0.13, 0.14, 0.15, 0.16, 0.17, 0.16, 0.17, 0.18, 0.19, 0.18, 0.19, 0.21, 0.2, 0.2]
P_PS_CS60_P45_B = [-0.01, -0.02, 0.01, -0.01, 0.0, 0.01, 0.0, -0.02, -0.03, -0.04, -0.05, -0.06, -0.06, -0.07, -0.07, -0.07, -0.07, -0.07, -0.07, -0.08, -0.07, -0.07, -0.06, -0.06, -0.06, -0.05, -0.06, -0.05]
P_PS_CS45_P45_A = [-0.01, -0.02, 0.01, -0.01, 0.0, 0.02, 0.01, 0.03, 0.05, 0.06, 0.08, 0.09, 0.1, 0.1, 0.11, 0.12, 0.13, 0.14, 0.15, 0.14, 0.15, 0.16, 0.16, 0.15, 0.16, 0.18, 0.17, 0.17]
P_PS_CS45_P45_B = [-0.01, -0.02, 0.01, -0.01, 0.0, 0.01, 0.0, -0.02, -0.03, -0.04, -0.04, -0.05, -0.05, -0.06, -0.06, -0.06, -0.06, -0.06, -0.06, -0.07, -0.06, -0.06, -0.06, -0.06, -0.06, -0.05, -0.05, -0.05]
P_PS_CS30_P45_A = [-0.01, -0.02, 0.01, -0.01, 0.0, 0.02, 0.01, 0.02, 0.04, 0.06, 0.07, 0.08, 0.09, 0.09, 0.1, 0.11, 0.11, 0.12, 0.13, 0.12, 0.13, 0.13, 0.14, 0.13, 0.14, 0.15, 0.14, 0.14]
P_PS_CS30_P45_B = [-0.01, -0.02, 0.01, -0.01, 0.0, 0.01, 0.0, -0.01, -0.02, -0.03, -0.04, -0.05, -0.05, -0.06, -0.05, -0.06, -0.06, -0.05, -0.06, -0.06, -0.05, -0.05, -0.05, -0.05, -0.05, -0.04, -0.05, -0.05]
P_PS_CS20_P45_A = [-0.01, -0.02, 0.01, -0.01, 0.0, 0.02, 0.01, 0.02, 0.04, 0.05, 0.06, 0.07, 0.08, 0.07, 0.08, 0.09, 0.1, 0.1, 0.11, 0.1, 0.11, 0.11, 0.12, 0.11, 0.11, 0.13, 0.12, 0.12]
P_PS_CS20_P45_B = [-0.01, -0.02, 0.01, -0.01, 0.0, 0.01, 0.0, -0.01, -0.02, -0.03, -0.03, -0.04, -0.04, -0.05, -0.04, -0.04, -0.04, -0.04, -0.04, -0.05, -0.04, -0.04, -0.04, -0.04, -0.04, -0.03, -0.04, -0.04]
P_PS_CS60_P37_A = [-0.01, -0.02, 0.01, -0.01, 0.0, 0.02, 0.01, 0.03, 0.05, 0.06, 0.08, 0.09, 0.1, 0.1, 0.11, 0.12, 0.13, 0.13, 0.14, 0.13, 0.14, 0.14, 0.15, 0.14, 0.15, 0.16, 0.15, 0.15]
P_PS_CS60_P37_B = [-0.01, -0.02, 0.01, -0.01, 0.0, 0.01, 0.0, -0.02, -0.03, -0.04, -0.04, -0.05, -0.05, -0.06, -0.06, -0.06, -0.06, -0.06, -0.06, -0.07, -0.06, -0.06, -0.05, -0.05, -0.05, -0.04, -0.05, -0.05]
P_PS_CS45_P37_A = [-0.01, -0.02, 0.01, -0.01, 0.0, 0.02, 0.01, 0.02, 0.04, 0.06, 0.07, 0.08, 0.09, 0.09, 0.1, 0.11, 0.11, 0.12, 0.12, 0.11, 0.12, 0.12, 0.13, 0.12, 0.13, 0.14, 0.13, 0.13]
P_PS_CS45_P37_B = [-0.01, -0.02, 0.01, -0.01, 0.0, 0.01, 0.0, -0.01, -0.02, -0.03, -0.04, -0.04, -0.04, -0.05, -0.05, -0.05, -0.05, -0.05, -0.05, -0.06, -0.05, -0.05, -0.05, -0.05, -0.05, -0.04, -0.04, -0.04]
P_PS_CS30_P37_A = [-0.01, -0.02, 0.01, -0.01, 0.0, 0.02, 0.01, 0.02, 0.04, 0.05, 0.06, 0.07, 0.08, 0.08, 0.08, 0.09, 0.09, 0.1, 0.1, 0.09, 0.1, 0.1, 0.1, 0.1, 0.1, 0.11, 0.1, 0.1]
P_PS_CS30_P37_B = [-0.01, -0.02, 0.01, -0.01, 0.0, 0.01, 0.0, -0.01, -0.02, -0.03, -0.03, -0.04, -0.04, -0.05, -0.04, -0.04, -0.04, -0.04, -0.04, -0.05, -0.04, -0.04, -0.04, -0.04, -0.04, -0.03, -0.04, -0.04]
P_PS_CS20_P37_A = [-0.01, -0.02, 0.01, -0.01, 0.0, 0.02, 0.01, 0.02, 0.03, 0.05, 0.06, 0.06, 0.07, 0.06, 0.07, 0.08, 0.08, 0.08, 0.08, 0.07, 0.08, 0.08, 0.08, 0.08, 0.08, 0.09, 0.08, 0.08]
P_PS_CS20_P37_B = [-0.01, -0.02, 0.01, -0.01, 0.0, 0.01, 0.0, -0.01, -0.01, -0.02, -0.02, -0.03, -0.03, -0.03, -0.03, -0.03, -0.03, -0.02, -0.02, -0.03, -0.02, -0.02, -0.02, -0.02, -0.02, -0.01, -0.02, -0.02]

# ---------------- lookup tables built from the named lists ----------------
T_CAM = dict(zip(SCENARIOS, [[T_CAM_CS60_REF, T_CAM_CS60_REF_2], [T_CAM_CS45_REF, T_CAM_CS45_REF_2],
                             [T_CAM_CS30_REF, T_CAM_CS30_REF_2], [T_CAM_CS20_REF, T_CAM_CS20_REF_2],
                             [T_CAM_CS60_P45], [T_CAM_CS45_P45], [T_CAM_CS30_P45], [T_CAM_CS20_P45],
                             [T_CAM_CS60_P37], [T_CAM_CS45_P37], [T_CAM_CS30_P37], [T_CAM_CS20_P37]]))
P_CAM = dict(zip(SCENARIOS, [[P_CAM_CS60_REF, P_CAM_CS60_REF_2], [P_CAM_CS45_REF, P_CAM_CS45_REF_2],
                             [P_CAM_CS30_REF, P_CAM_CS30_REF_2], [P_CAM_CS20_REF, P_CAM_CS20_REF_2],
                             [P_CAM_CS60_P45], [P_CAM_CS45_P45], [P_CAM_CS30_P45], [P_CAM_CS20_P45],
                             [P_CAM_CS60_P37], [P_CAM_CS45_P37], [P_CAM_CS30_P37], [P_CAM_CS20_P37]]))
T_PS = dict(zip(SCENARIOS, [[T_PS_CS60_REF_A, T_PS_CS60_REF_B], [T_PS_CS45_REF_A, T_PS_CS45_REF_B],
                            [T_PS_CS30_REF_A, T_PS_CS30_REF_B], [T_PS_CS20_REF_A, T_PS_CS20_REF_B],
                            [T_PS_CS60_P45_A, T_PS_CS60_P45_B], [T_PS_CS45_P45_A, T_PS_CS45_P45_B],
                            [T_PS_CS30_P45_A, T_PS_CS30_P45_B], [T_PS_CS20_P45_A, T_PS_CS20_P45_B],
                            [T_PS_CS60_P37_A, T_PS_CS60_P37_B], [T_PS_CS45_P37_A, T_PS_CS45_P37_B],
                            [T_PS_CS30_P37_A, T_PS_CS30_P37_B], [T_PS_CS20_P37_A, T_PS_CS20_P37_B]]))
P_PS = dict(zip(SCENARIOS, [[P_PS_CS60_REF_A, P_PS_CS60_REF_B], [P_PS_CS45_REF_A, P_PS_CS45_REF_B],
                            [P_PS_CS30_REF_A, P_PS_CS30_REF_B], [P_PS_CS20_REF_A, P_PS_CS20_REF_B],
                            [P_PS_CS60_P45_A, P_PS_CS60_P45_B], [P_PS_CS45_P45_A, P_PS_CS45_P45_B],
                            [P_PS_CS30_P45_A, P_PS_CS30_P45_B], [P_PS_CS20_P45_A, P_PS_CS20_P45_B],
                            [P_PS_CS60_P37_A, P_PS_CS60_P37_B], [P_PS_CS45_P37_A, P_PS_CS45_P37_B],
                            [P_PS_CS30_P37_A, P_PS_CS30_P37_B], [P_PS_CS20_P37_A, P_PS_CS20_P37_B]]))

# ---------------- styles ----------------
COLOR = {"CS6.0": "#ff1c1c", "CS4.5": "#ffb000", "CS3.0": "#3dbb3d", "CS2.0": "#2b2bd6"}
DASH = {"REF": "solid", "POL4.5": "4px,3px", "POL3.7": "1.5px,2.5px"}
FONT = "Liberation Sans, Arial, Helvetica, sans-serif"
W, H = 1328, 942
PAGE_PAD = 8   # the page body adds an 8px margin around the figure


def px_x(p):
    return (p - PAGE_PAD) / W


def px_y(p):
    return 1 - (p - PAGE_PAD) / H


def style(name):
    cs, pol = name.split("_")
    return COLOR[cs], DASH[pol]


fig = go.Figure()
draw_order = list(reversed(SCENARIOS))


def add_panel(table, years, xa, ya, width, opacity, legend):
    for name in draw_order:
        c, d = style(name)
        for k, ys in enumerate(table[name]):
            fig.add_trace(go.Scatter(
                x=years[:len(ys)], y=ys, mode="lines", name=name, legendgroup=name,
                line=dict(color=c, width=width, dash=d), opacity=opacity,
                xaxis=xa, yaxis=ya, showlegend=(legend and k == 0),
                legendrank=SCENARIOS.index(name) + 2))


add_panel(T_CAM, YEARS_CAM, "x", "y", 1.1, 0.95, True)
fig.add_trace(go.Scatter(x=YEARS_OBS, y=OBS_T, mode="lines", name="OBS", line=dict(color="#111111", width=1.3),
                         xaxis="x", yaxis="y", legendrank=1, showlegend=True))
add_panel(P_CAM, YEARS_CAM, "x2", "y2", 1.1, 0.95, False)
fig.add_trace(go.Scatter(x=YEARS_OBS, y=OBS_P, mode="lines", name="OBS", line=dict(color="#111111", width=1.3),
                         xaxis="x2", yaxis="y2", showlegend=False))
add_panel(T_PS, YEARS_PS, "x3", "y3", 1.8, 0.85, False)
fig.add_trace(go.Scatter(x=YEARS_OBS, y=OBS_T, mode="lines", name="OBS", line=dict(color="#111111", width=1.3),
                         xaxis="x3", yaxis="y3", showlegend=False))
add_panel(P_PS, YEARS_PS, "x4", "y4", 1.8, 0.85, False)
fig.add_trace(go.Scatter(x=YEARS_OBS, y=OBS_P, mode="lines", name="OBS", line=dict(color="#111111", width=1.3),
                         xaxis="x4", yaxis="y4", showlegend=False))

# ---------------- axes ----------------
AX = dict(showline=True, linecolor="#555555", linewidth=1.2, ticks="inside", ticklen=7,
          tickcolor="#555555", tickwidth=1.1, showgrid=False, zeroline=False, automargin=False,
          tickfont=dict(family=FONT, size=16, color="#222222"))

LEFT_X = [px_x(68), px_x(656)]
RIGHT_X = [px_x(752), 1.0]
TOP_Y = [px_y(426), px_y(92)]
BOT_Y = [px_y(891), px_y(557)]
RIGHT_END = 1980 + (W + PAGE_PAD - 752) * 20 / 86.67


def xax(domain, anchor, rng):
    return dict(AX, domain=domain, anchor=anchor, range=rng, tickvals=X_TICKS, mirror="ticks",
                minor=dict(dtick=5, tick0=1980, ticks="inside", ticklen=4, tickcolor="#555555"))


def yax_t(domain, anchor, mirror):
    return dict(AX, domain=domain, anchor=anchor, range=[-3, 12], tickvals=T_TICKS,
                ticktext=T_TICKTEXT, mirror=mirror)


def yax_p(domain, anchor, mirror):
    return dict(AX, domain=domain, anchor=anchor, range=[-0.6, 1.2], tickvals=P_TICKS,
                ticktext=P_TICKTEXT, mirror=mirror,
                minor=dict(dtick=0.05, tick0=-0.6, ticks="inside", ticklen=4, tickcolor="#555555"))


fig.update_layout(
    xaxis=xax(LEFT_X, "y", [1980, 2115]),
    yaxis=yax_t(TOP_Y, "x", "ticks"),
    xaxis2=xax(RIGHT_X, "y2", [1980, RIGHT_END]),
    yaxis2=yax_p(TOP_Y, "x2", False),
    xaxis3=xax(LEFT_X, "y3", [1980, 2115]),
    yaxis3=yax_t(BOT_Y, "x3", "ticks"),
    xaxis4=xax(RIGHT_X, "y4", [1980, RIGHT_END]),
    yaxis4=yax_p(BOT_Y, "x4", False),
)

# ---------------- text ----------------
ann = []


def text(s, x, y, size, bold=False, angle=0, color="#222222", yanchor="middle"):
    ann.append(dict(text=("<b>%s</b>" % s) if bold else s, x=px_x(x), y=px_y(y), xref="paper",
                    yref="paper", showarrow=False, xanchor="center", yanchor=yanchor,
                    textangle=angle, font=dict(family=FONT, size=size, color=color)))


text("a", 24, PAGE_PAD, 42, bold=True, color="#000000", yanchor="top")
text("b", 698, PAGE_PAD, 42, bold=True, color="#000000", yanchor="top")
text("U.S. SURFACE AIR TEMPERATURE ANOMALY (<sup>o</sup>C) (Base: 1991-2010)", 372, 41, 17.5)
text("IGSM-CAM INDIVIDUAL SIMULATIONS", 374, 68, 14.7)
text("U.S. PRECIPITATION ANOMALY (mm/day) (Base: 1991-2010)", 1052, 41, 17.5)
text("IGSM-CAM INDIVIDUAL SIMULATIONS", 1044, 68, 14.7)
text("IGSM-PATTERN SCALING SIMULATIONS", 362, 533, 14.7)
text("IGSM-PATTERN SCALING SIMULATIONS", 1043, 533, 14.7)
text("TEMPERATURE ANOMALY (<sup>o</sup>C)", 22, 255, 18, angle=-90)
text("TEMPERATURE ANOMALY (<sup>o</sup>C)", 22, 722, 18, angle=-90)
text("PRECIPITATION ANOMALY (mm/day)", 694, 252, 18, angle=-90)
text("PRECIPITATION ANOMALY (mm/day)", 694, 720, 18, angle=-90)
text("YEAR", 362, 468, 17)
text("YEAR", 1044, 468, 17)
text("YEAR", 362, 933, 17)
text("YEAR", 1044, 933, 17)

fig.update_layout(
    width=W, height=H, margin=dict(l=0, r=0, t=0, b=0, autoexpand=False),
    paper_bgcolor="white", plot_bgcolor="white",
    annotations=ann,
    showlegend=True,
    legend=dict(x=px_x(79), y=px_y(90), xanchor="left", yanchor="top", bgcolor="rgba(0,0,0,0)",
                font=dict(family=FONT, size=12.5, color="#333333"), tracegroupgap=0,
                itemwidth=30, traceorder="normal"),
)

fig.write_html("out.html")
